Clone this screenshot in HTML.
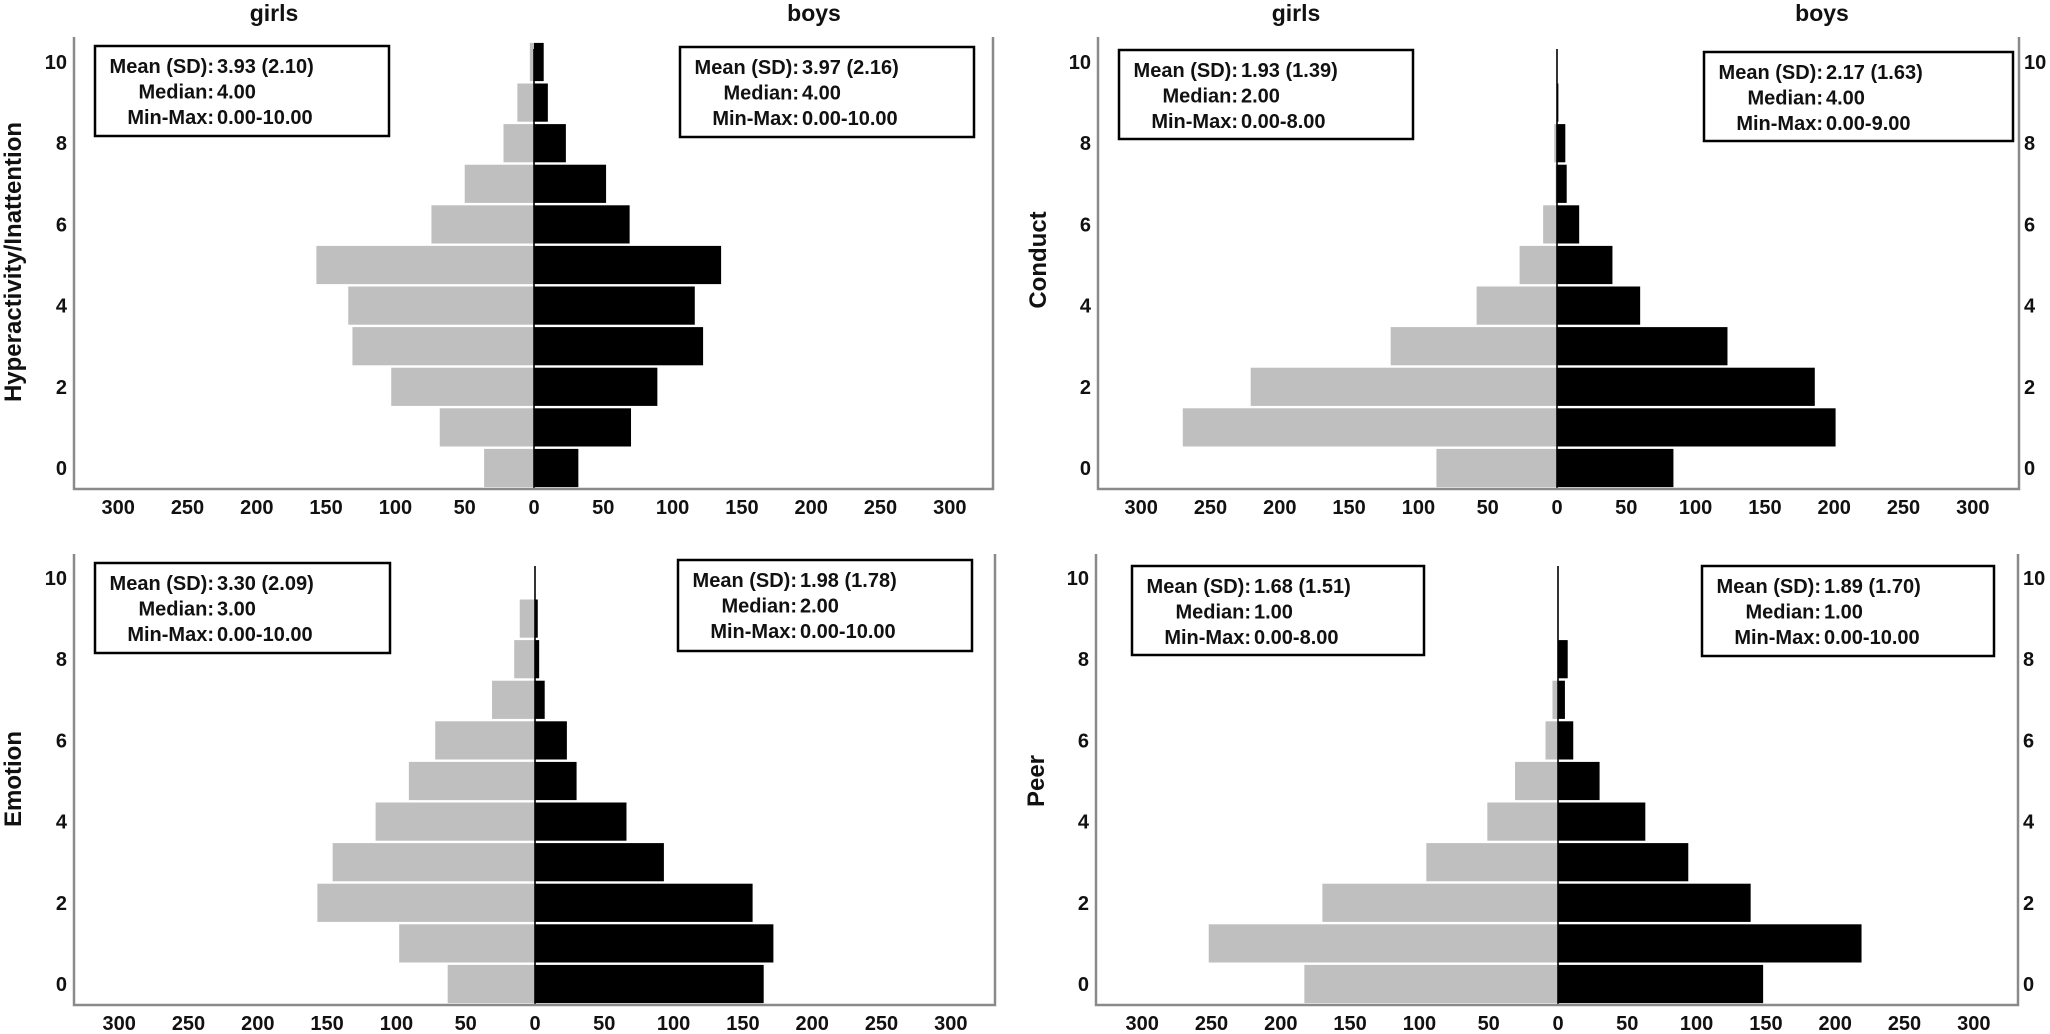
<!DOCTYPE html>
<html><head><meta charset="utf-8">
<style>
html,body{margin:0;padding:0;background:#fff;}
svg{display:block;font-family:"Liberation Sans",Arial,sans-serif;font-weight:bold;}
</style></head>
<body>
<svg id="chart" width="2050" height="1034" viewBox="0 0 2050 1034" xmlns="http://www.w3.org/2000/svg"></svg>
<script>
const scores = [0,1,2,3,4,5,6,7,8,9,10];
const xTicks = [300,250,200,150,100,50,0,50,100,150,200,250,300];
const yTicks = [0,2,4,6,8,10];
const hiGirls = [36,68,103,131,134,157,74,50,22,12,3];
const hiBoys = [32,70,89,122,116,135,69,52,23,10,7];
const conGirls = [87,270,221,120,58,27,10,1,2,0,0];
const conBoys = [84,201,186,123,60,40,16,7,6,1,0];
const emoGirls = [63,98,157,146,115,91,72,31,15,11,0];
const emoBoys = [165,172,157,93,66,30,23,7,3,2,0];
const peerGirls = [183,252,170,95,51,31,9,4,0,0,0];
const peerBoys = [148,219,139,94,63,30,11,5,7,0,0];
const hiStatsG = ["3.93 (2.10)","4.00","0.00-10.00"];
const hiStatsB = ["3.97 (2.16)","4.00","0.00-10.00"];
const conStatsG = ["1.93 (1.39)","2.00","0.00-8.00"];
const conStatsB = ["2.17 (1.63)","4.00","0.00-9.00"];
const emoStatsG = ["3.30 (2.09)","3.00","0.00-10.00"];
const emoStatsB = ["1.98 (1.78)","2.00","0.00-10.00"];
const peerStatsG = ["1.68 (1.51)","1.00","0.00-8.00"];
const peerStatsB = ["1.89 (1.70)","1.00","0.00-10.00"];

const NS="http://www.w3.org/2000/svg";
const svg=document.getElementById('chart');
function mk(tag,attrs,parent){const e=document.createElementNS(NS,tag);for(const k in attrs)e.setAttribute(k,attrs[k]);(parent||svg).appendChild(e);return e;}
function txt(s,attrs,parent){const t=mk('text',attrs,parent);t.textContent=s;return t;}

const panels=[
 {id:'hyperactivity',title:'Hyperactivity/Inattention',cx:534,left:74,right:993,y0:468,top:37,bottom:489,girls:hiGirls,boys:hiBoys,sg:hiStatsG,sb:hiStatsB,boxG:[95,46,294,90],boxB:[680,47,294,90],titleX:12,titleY:262,rightLabels:false,heads:[274,814]},
 {id:'conduct',title:'Conduct',cx:1557,left:1098,right:2019,y0:468,top:37,bottom:489,girls:conGirls,boys:conBoys,sg:conStatsG,sb:conStatsB,boxG:[1119,50,294,89],boxB:[1704,52,309,89],titleX:1037,titleY:260,rightLabels:true,heads:[1296,1822]},
 {id:'emotion',title:'Emotion',cx:535,left:74,right:995,y0:984,top:554,bottom:1005,girls:emoGirls,boys:emoBoys,sg:emoStatsG,sb:emoStatsB,boxG:[95,563,295,90],boxB:[678,560,294,91],titleX:12,titleY:779,rightLabels:false,heads:null},
 {id:'peer',title:'Peer',cx:1558,left:1096,right:2018,y0:984,top:554,bottom:1005,girls:peerGirls,boys:peerBoys,sg:peerStatsG,sb:peerStatsB,boxG:[1132,566,292,89],boxB:[1702,566,292,90],titleX:1035,titleY:781,rightLabels:true,heads:null}
];
const XS=1.386, YS=40.6;

panels.forEach(p=>{
  const g=mk('g',{});
  
  
  const xp=v=>p.cx+v*XS;
  const xn=v=>p.cx-v*XS;
  const yp=s=>p.y0-s*YS;
  scores.forEach((s,i)=>{
    const yt=yp(s)-YS/2+1.2, h=YS-2.4;
    const gv=p.girls[i], bv=p.boys[i];
    if(gv>0){const r=mk('rect',{x:xn(gv),y:yt,width:gv*XS,height:h,fill:'#bfbfbf'},g);
      
      }
    if(bv>0){const r=mk('rect',{x:p.cx,y:yt,width:bv*XS,height:h,fill:'#000'},g);
      
      }
  });
  const cl=mk('line',{x1:p.cx,y1:p.top+12,x2:p.cx,y2:p.bottom,stroke:'#000','stroke-width':1.6},g);
  
  
  const ax=mk('path',{d:`M${p.left},${p.top} V${p.bottom} H${p.right} V${p.top}`,fill:'none',stroke:'#8a8a8a','stroke-width':2.5},g);
  
  
  xTicks.forEach((v,i)=>{
    const x = i<6 ? xn(v) : xp(v);
    const t=txt(String(v),{x:x,y:p.bottom+25,'text-anchor':'middle','font-size':20,fill:'#111'},g);
    
    
  });
  yTicks.forEach(v=>{
    const t=txt(String(v),{x:p.left-7,y:yp(v)+7,'text-anchor':'end','font-size':20,fill:'#111'},g);
    
    
    if(p.rightLabels){
      const t2=txt(String(v),{x:p.right+5,y:yp(v)+7,'text-anchor':'start','font-size':20,fill:'#111'},g);
      
      
    }
  });
  const yt=txt(p.title,{x:0,y:0,'text-anchor':'middle','font-size':24,fill:'#111',transform:`translate(${p.titleX+9},${p.titleY}) rotate(-90)`},g);
  
  
  if(p.heads){
    const h1=txt('girls',{x:p.heads[0],y:21,'text-anchor':'middle','font-size':23,fill:'#111'},g);
    
    
    const h2=txt('boys',{x:p.heads[1],y:21,'text-anchor':'middle','font-size':23,fill:'#111'},g);
    
    
  }
  [[p.boxG,p.sg,'girls'],[p.boxB,p.sb,'boys']].forEach(([b,st,who])=>{
    const bg=mk('g',{},g);
    
    
    mk('rect',{x:b[0],y:b[1],width:b[2],height:b[3],fill:'#fff',stroke:'#000','stroke-width':2.5},bg);
    const labels=['Mean (SD):','Median:','Min-Max:'];
    labels.forEach((l,i)=>{
      const yy=b[1]+27+i*25.5;
      txt(l,{x:b[0]+119,y:yy,'text-anchor':'end','font-size':20,fill:'#111'},bg);
      txt(st[i],{x:b[0]+122,y:yy,'text-anchor':'start','font-size':20,fill:'#111'},bg);
    });
  });
});
</script>
</body></html>
